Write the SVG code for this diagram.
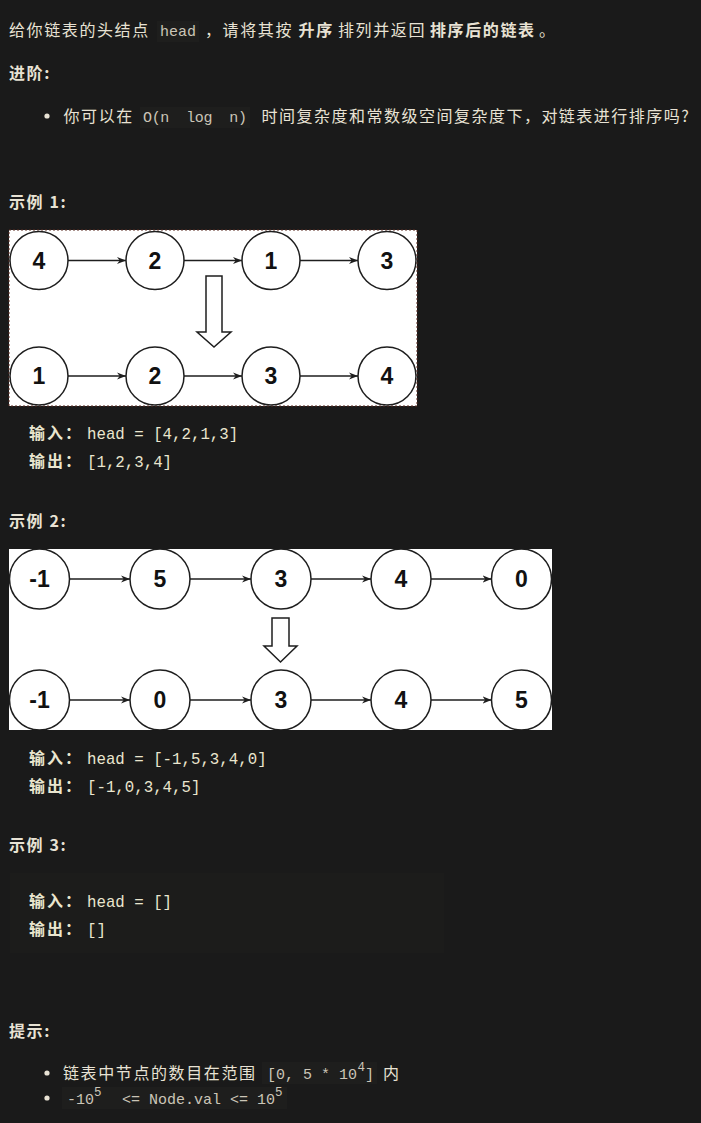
<svg xmlns="http://www.w3.org/2000/svg" width="701" height="1123" viewBox="0 0 701 1123">
<defs>
<style>
.t{font-family:'Noto Sans CJK SC','Noto Sans',sans-serif;font-size:16px;letter-spacing:1.6px;fill:#e8e2d4}
.b{font-weight:bold}
.ic{font-family:'Liberation Mono','Noto Sans CJK SC',monospace;font-size:15px;fill:#cbc5b7;letter-spacing:0}
.sup{font-size:12.5px}
.pc{font-family:'Liberation Mono',monospace;font-size:15.75px;fill:#eae6cf}
.pl{font-family:'Noto Sans CJK SC',sans-serif;font-weight:bold;font-size:16px;letter-spacing:2px;fill:#eae6cf}
.n{font-family:'Liberation Sans',Arial,sans-serif;font-weight:bold;font-size:23px;text-anchor:middle;fill:#111}
.c{fill:#fff;stroke:#1e1e1e;stroke-width:1.5}
.e{stroke:#1e1e1e;stroke-width:1.3;fill:none;marker-end:url(#ah)}
.da{fill:#fff;stroke:#1e1e1e;stroke-width:1.5;stroke-linejoin:miter}
.icbg{fill:#1e1e1d}
.prebg{fill:#1c1c1b}
</style>
<marker id="ah" viewBox="0 0 10 10" refX="10" refY="5" markerWidth="9" markerHeight="9" markerUnits="userSpaceOnUse" orient="auto">
<path d="M0,1 L10,5 L0,9 L3,5 Z" fill="#1e1e1e"/>
</marker>
</defs>
<rect width="701" height="1123" fill="#1a1a1a"/>

<g id="intro">
<rect class="icbg" x="157" y="21" width="42" height="21"/>
<text class="t" x="9" y="36">给你链表的头结点</text>
<text class="ic" x="160" y="36">head</text>
<text class="t" x="205" y="36">，请将其按</text>
<text class="t b" x="298.6" y="36">升序</text>
<text class="t" x="338" y="36">排列并返回</text>
<text class="t b" x="430" y="36">排序后的链表</text>
<text class="t" x="539" y="36">。</text>
</g>

<g id="advanced">
<text class="t b" x="9" y="79">进阶:</text>
<circle cx="47" cy="116" r="2.6" fill="#e8e2d4"/>
<text class="t" x="63.5" y="122">你可以在</text>
<rect class="icbg" x="140" y="107" width="110" height="21"/>
<text class="ic" x="143" y="122" xml:space="preserve" textLength="104">O(n  log  n)</text>
<text class="t" x="261.5" y="122" textLength="429" lengthAdjust="spacing">时间复杂度和常数级空间复杂度下，对链表进行排序吗?</text>
</g>

<g id="example1">
<text class="t b" x="9" y="208">示例 1:</text>
<rect x="9" y="230" width="408" height="176" fill="#fff"/>
<rect x="9" y="230" width="408" height="176" fill="none" stroke="#5a2a20" stroke-width="1" stroke-dasharray="2,2"/>
<g id="ex1-connectors">
<line class="e" x1="68" y1="260.5" x2="126" y2="260.5"/>
<line class="e" x1="184" y1="260.5" x2="242" y2="260.5"/>
<line class="e" x1="300" y1="260.5" x2="358" y2="260.5"/>
<line class="e" x1="68" y1="376" x2="126" y2="376"/>
<line class="e" x1="184" y1="376" x2="242" y2="376"/>
<line class="e" x1="300" y1="376" x2="358" y2="376"/>
<path class="da" d="M206,276 H222 V332 H231 L214,347 L197,332 H206 Z"/>
</g>
<g id="ex1-a1"><circle class="c" cx="39" cy="260.5" r="29"/><text class="n" x="39" y="268.5">4</text></g>
<g id="ex1-a2"><circle class="c" cx="155" cy="260.5" r="29"/><text class="n" x="155" y="268.5">2</text></g>
<g id="ex1-a3"><circle class="c" cx="271" cy="260.5" r="29"/><text class="n" x="271" y="268.5">1</text></g>
<g id="ex1-a4"><circle class="c" cx="387" cy="260.5" r="29"/><text class="n" x="387" y="268.5">3</text></g>
<g id="ex1-b1"><circle class="c" cx="39" cy="376" r="29"/><text class="n" x="39" y="384">1</text></g>
<g id="ex1-b2"><circle class="c" cx="155" cy="376" r="29"/><text class="n" x="155" y="384">2</text></g>
<g id="ex1-b3"><circle class="c" cx="271" cy="376" r="29"/><text class="n" x="271" y="384">3</text></g>
<g id="ex1-b4"><circle class="c" cx="387" cy="376" r="29"/><text class="n" x="387" y="384">4</text></g>
<text class="pl" x="29" y="439">输入：</text>
<text class="pc" x="87" y="439">head = [4,2,1,3]</text>
<text class="pl" x="29" y="467">输出：</text>
<text class="pc" x="87" y="467">[1,2,3,4]</text>
</g>

<g id="example2">
<text class="t b" x="9" y="527">示例 2:</text>
<rect x="9" y="549" width="543" height="181" fill="#fff"/>
<g id="ex2-connectors">
<line class="e" x1="69.5" y1="579" x2="130" y2="579"/>
<line class="e" x1="190" y1="579" x2="251" y2="579"/>
<line class="e" x1="311" y1="579" x2="371" y2="579"/>
<line class="e" x1="431" y1="579" x2="491.5" y2="579"/>
<line class="e" x1="69.5" y1="700" x2="130" y2="700"/>
<line class="e" x1="190" y1="700" x2="251" y2="700"/>
<line class="e" x1="311" y1="700" x2="371" y2="700"/>
<line class="e" x1="431" y1="700" x2="491.5" y2="700"/>
<path class="da" d="M272,618 H289 V646 H297 L280.5,662 L264,646 H272 Z"/>
</g>
<svg x="9" y="549" width="543" height="181" viewBox="9 549 543 181" overflow="hidden">
<g id="ex2-a1"><circle class="c" cx="39.5" cy="579" r="30"/><text class="n" x="39.5" y="587">-1</text></g>
<g id="ex2-a2"><circle class="c" cx="160" cy="579" r="30"/><text class="n" x="160" y="587">5</text></g>
<g id="ex2-a3"><circle class="c" cx="281" cy="579" r="30"/><text class="n" x="281" y="587">3</text></g>
<g id="ex2-a4"><circle class="c" cx="401" cy="579" r="30"/><text class="n" x="401" y="587">4</text></g>
<g id="ex2-a5"><circle class="c" cx="521.5" cy="579" r="30"/><text class="n" x="521.5" y="587">0</text></g>
<g id="ex2-b1"><circle class="c" cx="39.5" cy="700" r="30"/><text class="n" x="39.5" y="708">-1</text></g>
<g id="ex2-b2"><circle class="c" cx="160" cy="700" r="30"/><text class="n" x="160" y="708">0</text></g>
<g id="ex2-b3"><circle class="c" cx="281" cy="700" r="30"/><text class="n" x="281" y="708">3</text></g>
<g id="ex2-b4"><circle class="c" cx="401" cy="700" r="30"/><text class="n" x="401" y="708">4</text></g>
<g id="ex2-b5"><circle class="c" cx="521.5" cy="700" r="30"/><text class="n" x="521.5" y="708">5</text></g>
</svg>
<text class="pl" x="29" y="764">输入：</text>
<text class="pc" x="87" y="764">head = [-1,5,3,4,0]</text>
<text class="pl" x="29" y="792">输出：</text>
<text class="pc" x="87" y="792">[-1,0,3,4,5]</text>
</g>

<g id="example3">
<text class="t b" x="9" y="851">示例 3:</text>
<rect class="prebg" x="10" y="873" width="434" height="80"/>
<text class="pl" x="29" y="907">输入：</text>
<text class="pc" x="87" y="907">head = []</text>
<text class="pl" x="29" y="935">输出：</text>
<text class="pc" x="87" y="935">[]</text>
</g>

<g id="hints">
<text class="t b" x="9" y="1037">提示:</text>
<circle cx="47" cy="1073" r="2.6" fill="#e8e2d4"/>
<text class="t" x="63" y="1079">链表中节点的数目在范围</text>
<rect class="icbg" x="262" y="1062" width="115" height="22"/>
<text class="ic" x="267" y="1079" xml:space="preserve">[0, 5 * 10</text>
<text class="ic sup" x="357.5" y="1071">4</text>
<text class="ic" x="365" y="1079">]</text>
<text class="t" x="383" y="1079">内</text>
<circle cx="47" cy="1098" r="2.6" fill="#e8e2d4"/>
<rect class="icbg" x="62" y="1087" width="225" height="22"/>
<text class="ic" x="67" y="1104">-10</text>
<text class="ic sup" x="94" y="1096">5</text>
<text class="ic" x="122" y="1104" xml:space="preserve">&lt;= Node.val &lt;= 10</text>
<text class="ic sup" x="275" y="1096">5</text>
</g>
</svg>
